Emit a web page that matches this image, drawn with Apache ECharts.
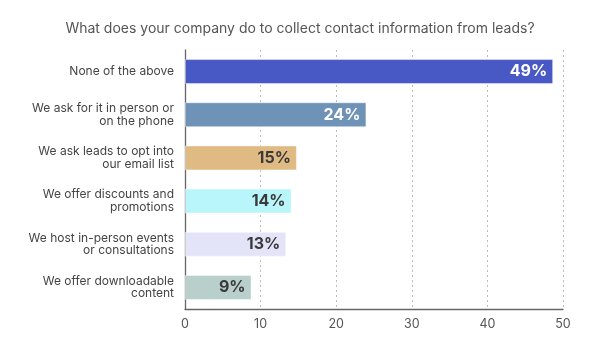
<!DOCTYPE html>
<html>
<head>
<meta charset="utf-8">
<script src="https://cdn.jsdelivr.net/npm/echarts@6/dist/echarts.min.js"></script>
<style>
  html, body { margin: 0; padding: 0; background: #fff; }
  #main { width: 600px; height: 351px; }
</style>
</head>
<body>
<div id="main"></div>
<script>
// categories, top to bottom
var categories = [
  'None of the above',
  'We ask for it in person or\non the phone',
  'We ask leads to opt into\nour email list',
  'We offer discounts and\npromotions',
  'We host in-person events\nor consultations',
  'We offer downloadable\ncontent'
];
var values = [48.7, 24.0, 14.8, 14.1, 13.4, 8.8];
var barColors = ['#4858c4', '#6f93b6', '#dfba82', '#b9f6fb', '#e4e4f9', '#b9cfcc'];
var labelColors = ['#ffffff', '#ffffff', '#3a3a3a', '#3a3a3a', '#3a3a3a', '#3a3a3a'];
var xTicks = [0, 10, 20, 30, 40, 50];

var myChart = echarts.init(document.getElementById('main'));

var option = {
  animation: false,
  title: {
    text: 'What does your company do to collect contact information from leads?',
    left: 'center',
    top: 17,
    textStyle: { fontFamily: 'Inter', fontSize: 14, fontWeight: 'normal', color: '#555' }
  },
  grid: { left: 185, right: 37, top: 50, bottom: 42 },
  xAxis: {
    type: 'value',
    min: xTicks[0],
    max: xTicks[xTicks.length - 1],
    interval: 10,
    axisLine: { show: true, lineStyle: { color: '#666', width: 1.3 } },
    axisTick: { show: false },
    axisLabel: { color: '#555', fontFamily: 'Inter', fontSize: 12.5, margin: 9 },
    splitLine: { show: true, lineStyle: { color: '#bbb', type: [2, 3] } }
  },
  yAxis: {
    type: 'category',
    inverse: true,
    data: categories,
    axisLine: { show: true, lineStyle: { color: '#666', width: 1.3 } },
    axisTick: { show: false },
    axisLabel: {
      margin: 11,
      color: '#444',
      fontFamily: 'Inter',
      fontSize: 12,
      lineHeight: 12.5,
      align: 'right'
    }
  },
  series: [{
    type: 'bar',
    barWidth: 25,
    data: values.map(function (v, i) {
      return {
        value: v,
        itemStyle: { color: barColors[i], borderColor: 'rgba(255,255,255,0.45)', borderWidth: 1 },
        label: { color: labelColors[i] }
      };
    }),
    label: {
      show: true,
      position: 'insideRight',
      distance: 6,
      fontFamily: 'Inter',
      fontSize: 16,
      fontWeight: 'bold',
      formatter: function (p) { return Math.round(p.value) + '%'; }
    }
  }]
};
myChart.setOption(option);
</script>
</body>
</html>
